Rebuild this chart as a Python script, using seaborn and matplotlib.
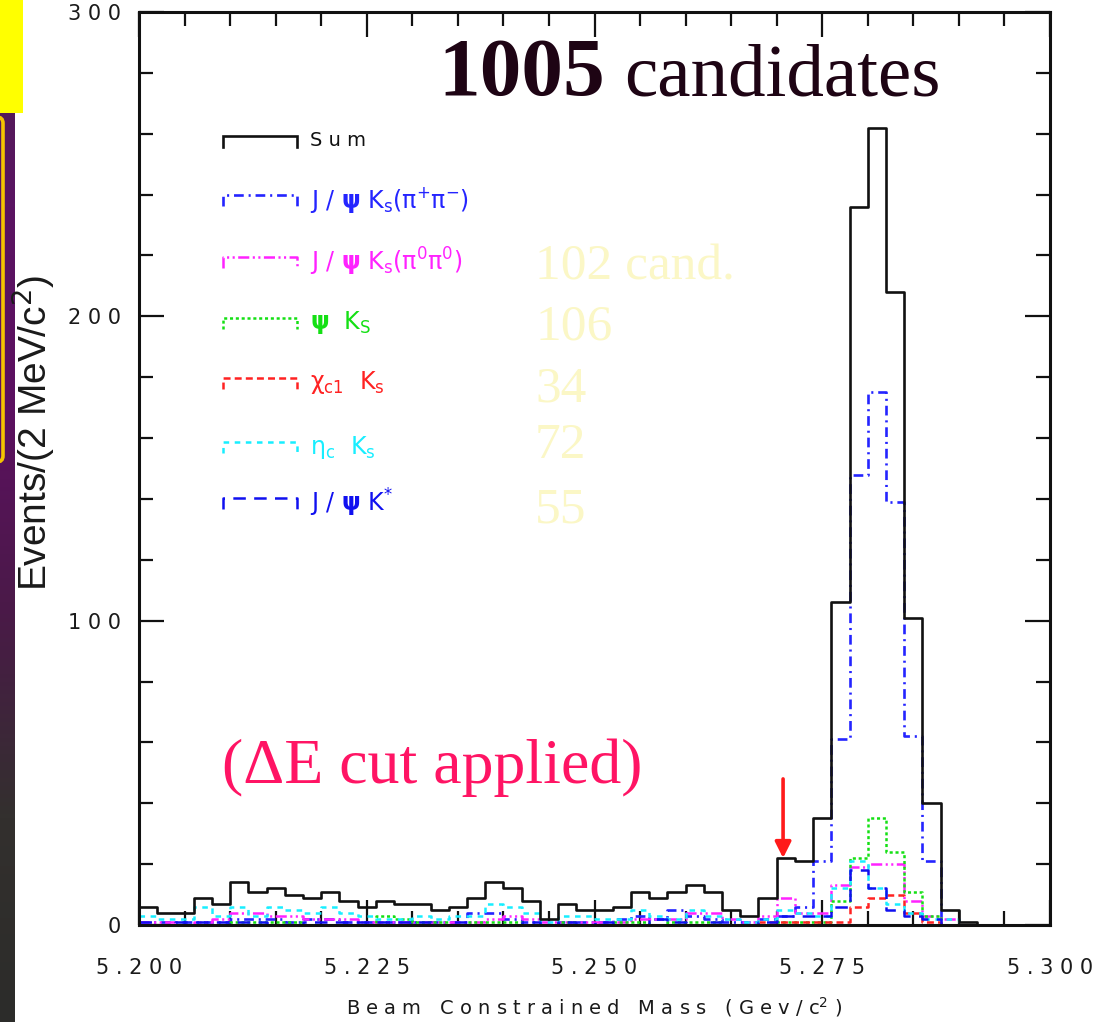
import numpy as np
import pandas as pd
import matplotlib
matplotlib.use("Agg")
import matplotlib.pyplot as plt
from matplotlib.patches import Rectangle, FancyBboxPatch
from matplotlib.colors import LinearSegmentedColormap
import seaborn as sns

# ---- data: events per 2 MeV bin, 5.200 - 5.300 GeV ----
bin_edges = np.round(np.arange(5.200, 5.3001, 0.002), 3)

sum_counts = [6, 4, 4, 9, 7, 14, 11, 12, 10, 9,
              11, 8, 6, 8, 7, 7, 5, 6, 9, 14,
              12, 8, 2, 7, 5, 5, 6, 11, 9, 11,
              13, 11, 5, 3, 9, 22, 21, 35, 106, 236,
              262, 208, 101, 40, 5, 1, 0, 0, 0, 0]
jpsi_ks_pipi = [1, 1, 1, 1, 1, 2, 2, 2, 1, 2,
                2, 1, 1, 1, 1, 1, 1, 1, 4, 4,
                2, 1, 0, 1, 1, 1, 2, 3, 2, 5,
                3, 2, 1, 1, 2, 3, 6, 21, 61, 148,
                175, 139, 62, 21, 0, 0, 0, 0, 0, 0]
jpsi_ks_pi0pi0 = [1, 1, 0, 1, 2, 4, 4, 3, 3, 2,
                  2, 2, 1, 1, 1, 1, 1, 1, 1, 2,
                  3, 2, 1, 1, 1, 1, 1, 2, 2, 2,
                  4, 4, 2, 1, 3, 9, 4, 4, 13, 19,
                  20, 20, 8, 3, 2, 0, 0, 0, 0, 0]
psi2s_ks = [0, 0, 0, 0, 0, 1, 1, 1, 1, 0,
            0, 0, 0, 3, 2, 1, 1, 0, 1, 1,
            1, 0, 0, 1, 0, 0, 1, 1, 0, 1,
            1, 1, 0, 0, 0, 1, 1, 1, 8, 22,
            35, 24, 11, 3, 0, 0, 0, 0, 0, 0]
chic1_ks = [0, 0, 0, 0, 0, 0, 0, 0, 0, 0,
            0, 0, 0, 0, 0, 0, 0, 0, 0, 0,
            0, 0, 0, 0, 0, 0, 0, 0, 0, 0,
            0, 0, 0, 0, 1, 1, 1, 1, 1, 6,
            9, 10, 4, 1, 0, 0, 0, 0, 0, 0]
etac_ks = [3, 2, 2, 6, 3, 6, 3, 6, 5, 4,
           6, 4, 3, 2, 2, 3, 2, 3, 3, 7,
           6, 4, 1, 3, 3, 2, 2, 5, 3, 2,
           5, 3, 2, 1, 2, 5, 4, 3, 12, 21,
           12, 7, 4, 2, 2, 0, 0, 0, 0, 0]
jpsi_kstar = [1, 0, 1, 1, 1, 1, 1, 0, 0, 1,
              1, 1, 1, 1, 1, 1, 0, 1, 0, 0,
              0, 1, 0, 1, 0, 1, 0, 0, 2, 1,
              0, 1, 0, 0, 1, 3, 3, 3, 6, 18,
              12, 5, 3, 2, 0, 0, 0, 0, 0, 0]

series_values = [sum_counts, jpsi_ks_pipi, jpsi_ks_pi0pi0, psi2s_ks,
                 chic1_ks, etac_ks, jpsi_kstar]
legend_labels = [
    "S u m",
    r"J / $\mathbf{\psi}$ K$_\mathrm{s}$(π$^{+}$π$^{-}$)",
    r"J / $\mathbf{\psi}$ K$_\mathrm{s}$(π$^{0}$π$^{0}$)",
    r"$\mathbf{\psi}$  K$_\mathrm{S}$",
    r"χ$_\mathrm{c1}$  K$_\mathrm{s}$",
    r"η$_\mathrm{c}$  K$_\mathrm{s}$",
    r"J / $\mathbf{\psi}$ K$^{*}$",
]
mode_counts = ["102 cand.", "106", "34", "72", "55"]

x_tick_values = [5.200, 5.225, 5.250, 5.275, 5.300]
x_tick_labels = ["5.200", "5.225", "5.250", "5.275", "5.300"]
y_tick_values = [0, 100, 200, 300]
y_tick_labels = ["0", "100", "200", "300"]

# ---- styles ----
colors = ["#111111", "#2424ff", "#ff22ff", "#14e014", "#ff2222", "#18eeff", "#1010f0"]
dashes = [None, (7, 3.5, 1.5, 3.5), (8, 2.5, 1.5, 2.5, 1.5, 2.5), (2.2, 2),
          (5, 3), (4, 4), (9, 6)]
widths = [1.9, 1.9, 1.8, 1.8, 1.8, 1.8, 1.8]

plt.rcParams["lines.scale_dashes"] = False
plt.rcParams["font.family"] = ["DejaVu Sans"]
plt.rcParams["mathtext.fontset"] = "dejavusans"

W, H = 1094, 1022
fig = plt.figure(figsize=(W / 100, H / 100), dpi=100)
fig.patch.set_facecolor("white")


def fx(x):
    return x / W


def fy(y):
    return 1 - y / H


def spread(s):
    return " ".join(s)


ax = fig.add_axes([fx(139), fy(925), fx(1050) - fx(139), fy(12) - fy(925)])

centers = (bin_edges[:-1] + bin_edges[1:]) / 2
edge_list = bin_edges.tolist()
order = [1, 2, 3, 4, 5, 6, 0]
for i in order:
    df = pd.DataFrame({"mass": centers, "events": series_values[i]})
    kws = dict(color=colors[i], linewidth=widths[i])
    if dashes[i] is not None:
        kws["dashes"] = dashes[i]
    sns.histplot(data=df, x="mass", weights="events", bins=edge_list,
                 element="step", fill=False, ax=ax, **kws)

ax.set_xlim(5.200, 5.300)
ax.set_ylim(0, 300)
for s in ax.spines.values():
    s.set_linewidth(2.2)
    s.set_color("#111111")

ax.set_xticks(x_tick_values)
ax.set_xticklabels([spread(t) for t in x_tick_labels])
ax.set_xticks(np.round(np.arange(5.200, 5.3001, 0.005), 3), minor=True)
ax.set_yticks(y_tick_values)
ax.set_yticklabels([spread(t) for t in y_tick_labels])
ax.set_yticks(np.arange(0, 301, 20), minor=True)
ax.tick_params(which="both", direction="in", top=True, right=True,
               width=1.6, color="#111111", labelcolor="#1a1a1a", labelsize=15)
ax.tick_params(which="major", length=18)
ax.tick_params(which="minor", length=10)
ax.tick_params(axis="x", which="major", pad=24)
ax.tick_params(axis="y", which="major", pad=13)

ax.set_xlabel(spread("Beam Constrained Mass (Gev/c") + r"$^{2}$ )",
              fontsize=14, color="#1a1a1a", labelpad=12)
ax.set_ylabel(r"Events/(2 MeV/c$^2$)", fontsize=28, color="#1a1a1a",
              family=["Liberation Sans", "DejaVu Sans"])
ax.yaxis.set_label_coords(-0.090, 0.539)

# in-plot legend with bracket-shaped samples
rows = [141, 200, 262, 323, 383, 447, 503]
for i, (lab, yrow) in enumerate(zip(legend_labels, rows)):
    ys = (925 - (yrow - 5)) / 913
    dy = 11 / 913
    x0, x1 = (223 - 139) / 911, (297 - 139) / 911
    kws = dict(color=colors[i], linewidth=widths[i])
    if dashes[i] is not None:
        kws["dashes"] = dashes[i]
    ax.plot([x0, x0, x1, x1], [ys - dy, ys, ys, ys - dy],
            transform=ax.transAxes, solid_joinstyle="miter", **kws)
    ax.text((310 - 139) / 911, (925 - yrow) / 913, lab, transform=ax.transAxes,
            color=colors[i], fontsize=14 if i == 0 else 17,
            va="center", ha="left")

# per-mode candidate counts
count_rows = [279, 340, 402, 458, 522]
for txt, yb in zip(mode_counts, count_rows):
    fig.text(fx(535), fy(yb), txt, color="#fbf7c6", fontsize=37,
             family="Liberation Serif", va="baseline", ha="left")

fig.text(fx(438), fy(95), "1005", color="#1e0414", fontsize=60,
         family="Liberation Serif", fontweight="bold", va="baseline", ha="left")
fig.text(fx(624), fy(95), "candidates", color="#1e0414", fontsize=54,
         family="Liberation Serif", va="baseline", ha="left")

ax.text((222 - 139) / 911, (925 - 783) / 913, "(\u0394E cut applied)",
        transform=ax.transAxes, color="#ff1464", fontsize=46,
        family="Liberation Serif", va="baseline", ha="left")

ax.annotate("", xy=(5.2707, 22), xytext=(5.2707, 48),
            arrowprops=dict(arrowstyle="-|>", color="#ff1a1a", lw=2.6,
                            mutation_scale=24, shrinkA=0, shrinkB=0))

# slide frame on the left edge
strip = fig.add_axes([0, 0, fx(15), 1])
strip.set_zorder(-1)
cmap = LinearSegmentedColormap.from_list(
    "slide", ["#4e2050", "#5a1462", "#5c1060", "#4a1a48", "#33302e", "#2c2c2a"])
strip.imshow(np.linspace(0, 1, 256)[:, None], aspect="auto", cmap=cmap,
             extent=[0, 1, 0, 1], origin="upper")
strip.set_axis_off()
fig.add_artist(Rectangle((0, fy(113)), fx(23), 113 / H, transform=fig.transFigure,
                         facecolor="#ffff00", edgecolor="none"))
fig.add_artist(FancyBboxPatch((-0.02, fy(462)), 0.02 + fx(3), (462 - 117) / H,
                              boxstyle="round,pad=0,rounding_size=0.006",
                              transform=fig.transFigure, facecolor="none",
                              edgecolor="#f4c400", linewidth=2.6))

fig.savefig("out.png", dpi=100, facecolor="white")
